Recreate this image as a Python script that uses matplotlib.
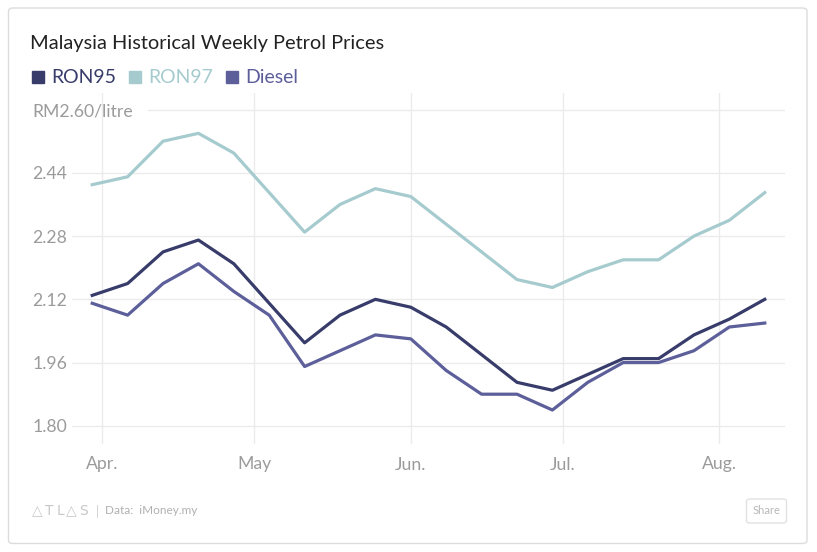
import matplotlib
matplotlib.use("Agg")
import matplotlib.pyplot as plt
from matplotlib.patches import FancyBboxPatch
import pandas as pd

# ---- data ----
dates = pd.date_range("2017-03-30", periods=20, freq="7D")
ron95 = [2.13, 2.16, 2.24, 2.27, 2.21, 2.11, 2.01, 2.08, 2.12, 2.10,
         2.05, 1.98, 1.91, 1.89, 1.93, 1.97, 1.97, 2.03, 2.07, 2.12]
ron97 = [2.41, 2.43, 2.52, 2.54, 2.49, 2.39, 2.29, 2.36, 2.40, 2.38,
         2.31, 2.24, 2.17, 2.15, 2.19, 2.22, 2.22, 2.28, 2.32, 2.39]
diesel = [2.11, 2.08, 2.16, 2.21, 2.14, 2.08, 1.95, 1.99, 2.03, 2.02,
          1.94, 1.88, 1.88, 1.84, 1.91, 1.96, 1.96, 1.99, 2.05, 2.06]
series_names = ["RON95", "RON97", "Diesel"]
colors = ["#383c6a", "#a6cbcf", "#5c5f9a"]
yticks = [1.80, 1.96, 2.12, 2.28, 2.44, 2.60]
ytick_labels = ["1.80", "1.96", "2.12", "2.28", "2.44", "RM2.60/litre"]
month_ticks = pd.to_datetime(["2017-04-01", "2017-05-01", "2017-06-01", "2017-07-01", "2017-08-01"])
month_labels = ["Apr.", "May", "Jun.", "Jul.", "Aug."]

W, H = 817, 552
fig = plt.figure(figsize=(W / 100, H / 100), dpi=100)
fig.patch.set_facecolor("white")
FONT = "Lato"
GRID = "#ebebeb"
TXT = "#9b9b9b"

# card border
card = FancyBboxPatch((8.5 / W, 8.5 / H), (807 - 8.5) / W, (544 - 8.5) / H,
                      boxstyle="round,pad=0,rounding_size=0.006",
                      transform=fig.transFigure, facecolor="white",
                      edgecolor="#dcdcdc", linewidth=1.0, zorder=-5)
fig.patches.append(card)

ax_l, ax_r, ax_t, ax_b = 72, 785, 93, 444
ax = fig.add_axes([ax_l / W, 1 - ax_b / H, (ax_r - ax_l) / W, (ax_b - ax_t) / H])
ax.set_zorder(2)
ax.set_facecolor("none")
for s in ax.spines.values():
    s.set_visible(False)

x0 = pd.Timestamp("2017-03-26")
x1 = pd.Timestamp("2017-08-14")
ax.set_xlim(x0, x1)
ax.set_ylim(1.754, 2.642)

# gridlines
for m in month_ticks:
    ax.axvline(m, color=GRID, lw=1.0, zorder=1)
for y in yticks:
    xmin = (147.5 - ax_l) / (ax_r - ax_l) if y == 2.60 else 0
    ax.axhline(y, xmin=xmin, xmax=1, color=GRID, lw=1.0, zorder=1)

for vals, c in zip([ron95, ron97, diesel], colors):
    ax.plot(dates, vals, color=c, lw=2.3, zorder=3)

ax.set_yticks(yticks)
ax.set_yticklabels(ytick_labels)
ax.tick_params(axis="y", length=0, pad=(ax_l - 32) * 0.72, labelsize=12.7,
               labelcolor=TXT)
for lab in ax.get_yticklabels():
    lab.set_horizontalalignment("left")
    lab.set_fontfamily(FONT)
ax.set_xticks(month_ticks)
ax.set_xticklabels(month_labels)
ax.tick_params(axis="x", length=0, pad=9, labelsize=12.7, labelcolor=TXT)
for lab in ax.get_xticklabels():
    lab.set_fontfamily(FONT)

# title
fig.text(30 / W, 1 - 44 / H, "Malaysia Historical Weekly Petrol Prices",
         fontsize=14.4, color="#222222", family=FONT, va="center", ha="left")

# legend
lx = 32
for name, c in zip(series_names, colors):
    fig.patches.append(plt.Rectangle((lx / W, 1 - 83 / H), 12 / W, 12 / H,
                                     transform=fig.transFigure, color=c))
    t = fig.text((lx + 19) / W, 1 - 77 / H, name, fontsize=14.0, color=c,
                 family=FONT, va="center", ha="left")
    fig.canvas.draw()
    bb = t.get_window_extent()
    lx = bb.x1 + 13

# footer logo, letter by letter
for ch, cx in zip(["\u25b3", "T", "L", "\u25b3", "S"], [37, 49, 60, 71, 84]):
    fig.text(cx / W, 1 - 511 / H, ch, fontsize=10, color="#c8c8c8",
             family="DejaVu Sans", va="center", ha="center")
fig.text(97 / W, 1 - 511 / H, "|", fontsize=9, color="#d0d0d0",
         family=FONT, va="center", ha="center")
fig.text(105 / W, 1 - 511 / H, "Data:  iMoney.my", fontsize=8.5, color="#b0b0b0",
         family=FONT, va="center", ha="left")

# share button
btn = FancyBboxPatch((746.5 / W, 1 - 523 / H), 40 / W, 24 / H,
                     boxstyle="round,pad=0,rounding_size=0.004",
                     transform=fig.transFigure, facecolor="white",
                     edgecolor="#e2e2e2", linewidth=1.0)
fig.patches.append(btn)
fig.text(766.5 / W, 1 - 511 / H, "Share", fontsize=8, color="#b8b8b8",
         family=FONT, va="center", ha="center")

fig.savefig("out.png", dpi=100, facecolor="white")
